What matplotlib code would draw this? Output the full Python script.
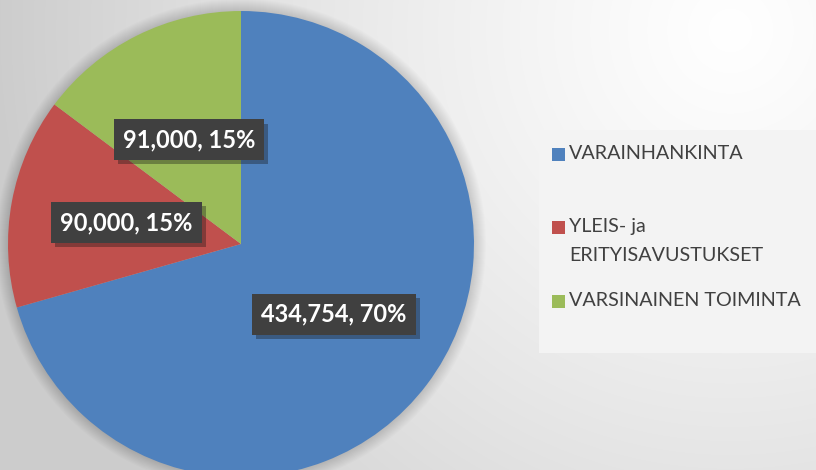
import numpy as np
import matplotlib
matplotlib.use("Agg")
import matplotlib.pyplot as plt
import matplotlib.patheffects as pe
from matplotlib.patches import Rectangle, Circle

categories = ["VARAINHANKINTA", "YLEIS- ja\nERITYISAVUSTUKSET", "VARSINAINEN TOIMINTA"]
values = [434754, 90000, 91000]
percents = ["70%", "15%", "15%"]
colors = ["#4F81BD", "#C0504D", "#9BBB59"]

W, H = 816, 470
fig = plt.figure(figsize=(W / 100, H / 100), dpi=100)

# background radial gradient
bg = fig.add_axes([0, 0, 1, 1], zorder=-10)
yy, xx = np.mgrid[0:H, 0:W]
d = np.hypot(xx - 730, yy - 30)
g = np.clip(1.0 - d / 4200 * 0.75 - (d / 900) ** 2 * 0.1, 0.8, 1.0)
bg.imshow(np.dstack([g, g, g]), extent=[0, W, H, 0], aspect="auto")
bg.set_axis_off()

# pie axes in pixel coordinates
ax = fig.add_axes([0, 0, 1, 1])
cx, cy, r = 241, H - 244, 233

# soft shadow around the pie
for k in range(12):
    ax.add_patch(Circle((cx, cy), r + 12 - k, color="black", alpha=0.012, lw=0, zorder=0))

labels = ["{:,}, {}".format(v, p) for v, p in zip(values, percents)]
wedges, texts = ax.pie(values, colors=colors, startangle=90, counterclock=False,
                       center=(cx, cy), radius=r, labels=labels, labeldistance=0.5,
                       frame=True, wedgeprops=dict(linewidth=0, zorder=1),
                       textprops=dict(color="white", fontsize=17, fontweight="bold",
                                      family="Lato", ha="center", va="center"))
ax.set_xlim(0, W)
ax.set_ylim(0, H)
ax.set_axis_off()
for t in texts:
    t.set_bbox(dict(boxstyle="square,pad=0.38", facecolor="#404040", edgecolor="none"))
    t.get_bbox_patch().set_path_effects([pe.SimplePatchShadow(offset=(3, -3), alpha=0.35),
                                         pe.Normal()])

# legend panel
fig.patches.append(Rectangle((539 / W, 1 - 353 / H), (W - 539) / W, 223 / H,
                             transform=fig.transFigure, facecolor="#f3f3f3",
                             edgecolor="none", zorder=-5))
ys = [154, 227, 301]
for cat, col, y in zip(categories, colors, ys):
    fig.patches.append(Rectangle((552 / W, 1 - (y + 6.5) / H), 13 / W, 13 / H,
                                 transform=fig.transFigure, facecolor=col,
                                 edgecolor="none"))
    fig.text(569 / W, 1 - (y - 9) / H, cat, color="#404040", fontsize=14.2,
             family="Lato", ha="left", va="top", linespacing=1.85)

fig.savefig("out.png", dpi=100)
